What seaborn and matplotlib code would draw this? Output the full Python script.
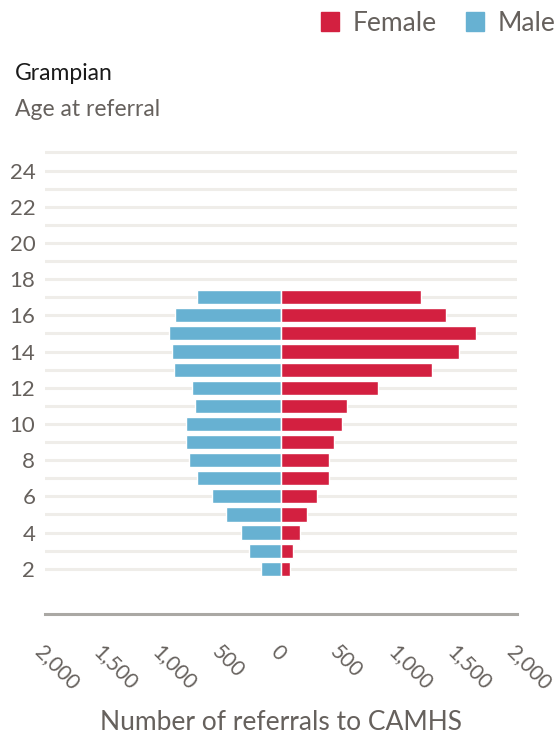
import numpy as np
import pandas as pd
import matplotlib.pyplot as plt
import seaborn as sns
from matplotlib.patches import Patch

# Idade no encaminhamento e número de encaminhamentos por sexo
ages = list(range(2, 18))
male = [172, 274, 342, 469, 587, 715, 782, 808, 808, 731, 757, 909, 926, 952, 901, 715]
female = [74, 99, 158, 218, 303, 404, 404, 447, 514, 557, 819, 1277, 1506, 1650, 1396, 1184]

x_ticks = [-2000, -1500, -1000, -500, 0, 500, 1000, 1500, 2000]
y_ticks = list(range(2, 26))

red = '#d32040'
blue = '#67b1d2'
grey_text = '#66615d'

dados = pd.DataFrame({
    'age': ages * 2,
    'count': [-v for v in male] + female,
    'sex': ['Male'] * len(ages) + ['Female'] * len(ages),
})

sns.set_style('white')
plt.rcParams['font.family'] = ['Lato', 'DejaVu Sans']

fig = plt.figure(figsize=(5.54, 7.35), dpi=100)
ax = fig.add_axes([45 / 554, 1 - 614 / 735, 472 / 554, (614 - 147) / 735])

sns.barplot(data=dados, x='count', y='age', hue='sex', orient='h', native_scale=True,
            dodge=False, width=0.78, palette={'Male': blue, 'Female': red},
            saturation=1, legend=False, ax=ax, zorder=3)
# fina separação branca entre os dois lados
ax.vlines(0, min(ages) - 0.45, max(ages) + 0.45, color='white', lw=0.8, zorder=4)

ax.set_xlim(-2000, 2000)
ax.set_ylim(-0.5, 25.3)

ax.set_yticks(y_ticks)
ax.set_yticklabels([str(a) if a % 2 == 0 and a <= 24 else '' for a in y_ticks])
ax.yaxis.grid(True, color='#efede9', lw=2.2, zorder=0)
ax.xaxis.grid(False)
ax.tick_params(axis='y', length=0, pad=7, labelsize=16, labelcolor=grey_text)

ax.set_xticks(x_ticks)
ax.set_xticklabels([f'{abs(v):,}' for v in x_ticks], rotation=-45, ha='left', va='top',
                   rotation_mode='anchor')
ax.tick_params(axis='x', length=14, width=1.3, color='#e3e1dd', pad=6, labelsize=15,
               labelcolor=grey_text)

for s in ['left', 'right', 'top']:
    ax.spines[s].set_visible(False)
ax.spines['bottom'].set_color('#aaa8a4')
ax.spines['bottom'].set_linewidth(2.2)

ax.set_xlabel('Number of referrals to CAMHS', fontsize=19, color=grey_text, labelpad=12)
ax.set_ylabel('')

fig.text(15 / 554, 1 - 73 / 735, 'Grampian', fontsize=16.5, color='#1a1a1a', va='center')
fig.text(15 / 554, 1 - 110 / 735, 'Age at referral', fontsize=16.5, color=grey_text, va='center')

handles = [Patch(color=red, label='Female'), Patch(color=blue, label='Male')]
fig.legend(handles=handles, loc='upper right', bbox_to_anchor=(1.045, 1.018), ncol=2,
           frameon=False, fontsize=19, handlelength=0.7, handleheight=0.7,
           handletextpad=0.5, columnspacing=1.1, labelcolor=grey_text)

fig.savefig('out.png', dpi=100)
